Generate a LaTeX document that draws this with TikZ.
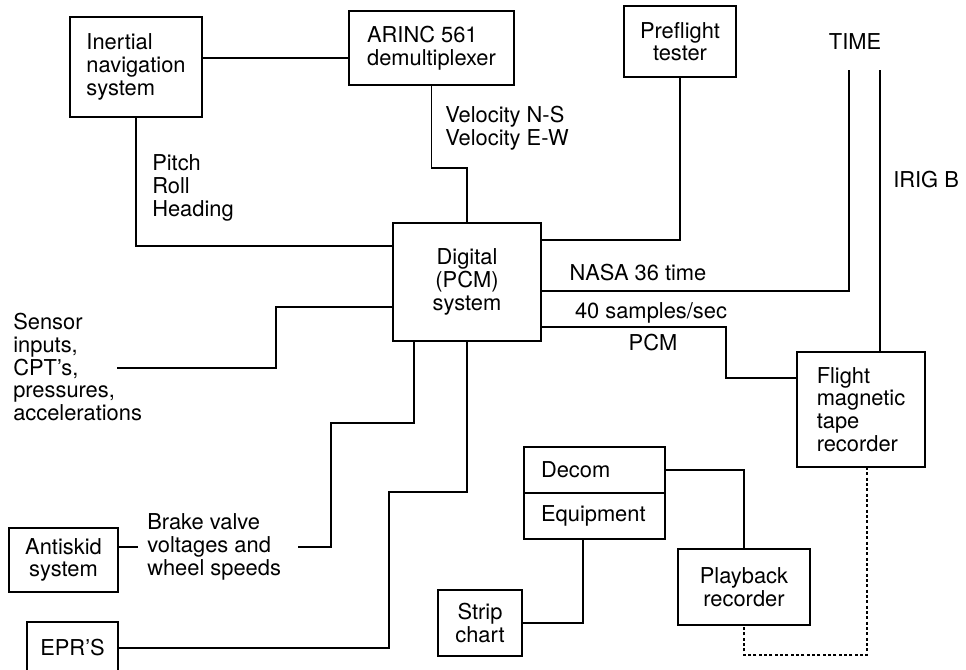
\documentclass[tikz,border=0pt]{standalone}
\usepackage{fontspec}
\setmainfont{TeX Gyre Heros}
\usetikzlibrary{positioning}
\newcommand{\lblfont}{\fontsize{16.4}{17}\selectfont}

\begin{document}
\begin{tikzpicture}[
    x=0.75pt, y=-0.75pt,
    box/.style={draw, line width=1.2pt, inner sep=0pt, outer sep=0pt, align=center, font=\lblfont},
    lbl/.style={inner sep=0pt, align=left, font=\lblfont},
    wire/.style={line width=1.2pt},
    dots/.style={line width=1pt, dash pattern=on 2.2pt off 1.8pt}
]
\clip (0,0) rectangle (966,669);

% blocks
\node[box, align=left, minimum width=99pt, minimum height=75pt] (ins) at (136,67) {Inertial\\navigation\\system};
\node[box, align=left, minimum width=123.75pt, minimum height=55.5pt] (arinc) at (431.5,48) {ARINC 561\\demultiplexer};
\node[box, minimum width=84pt, minimum height=53.25pt] (pre) at (680,41.5) {Preflight\\tester};
\node[box, minimum width=111pt, minimum height=88.5pt] (dig) at (467,282) {Digital\\(PCM)\\system};
\node[box, align=left, minimum width=96pt, minimum height=86.25pt] (tape) at (861,409.5) {Flight\\magnetic\\tape\\recorder};
\node[box, align=left, text width=80.25pt, inner xsep=12.75pt, minimum height=34.5pt] (decom) at (594.5,470) {Decom};
\node[box, align=left, text width=80.25pt, inner xsep=12.75pt, minimum height=34.5pt, below=0pt of decom] (equip) {Equipment};
\node[box, minimum width=99pt, minimum height=57pt] (play) at (744,587) {Playback\\recorder};
\node[box, minimum width=63pt, minimum height=49.5pt] (strip) at (480,623) {Strip\\chart};
\node[box, minimum width=81.75pt, minimum height=48pt] (skid) at (63.5,560) {Antiskid\\system};
\node[box, minimum width=68.25pt, minimum height=39pt] (epr) at (72.5,648) {EPR'S};

% signal labels
\node[lbl, anchor=west] (att) at (152,188) {Pitch\\Roll\\Heading};
\node[lbl, anchor=west] (vel) at (445,128) {Velocity N-S\\Velocity E-W};
\node[lbl] (timelbl) at (855,42) {TIME};
\node[lbl, anchor=west] (irig) at (893,180) {IRIG B};
\node[lbl] (nasa) at (638,273) {NASA 36 time};
\node[lbl] (rate) at (651,313) {40 samples/sec};
\node[lbl] (pcm) at (653,343) {PCM};
\node[lbl, anchor=west] (sens) at (13,367) {Sensor\\inputs,\\CPT's,\\pressures,\\accelerations};
\node[lbl, anchor=west, inner xsep=6.75pt] (brake) at (138,547) {Brake valve\\voltages and\\wheel speeds};

\coordinate (timeend) at (849,70);
\coordinate (irigend) at (880,70);
\coordinate (sensend) at (117,368);

% connections
\draw[wire] ([yshift=6.75pt]ins.east) -- ([yshift=-7.5pt]arinc.west);
\draw[wire] (ins.south) |- ([yshift=27pt]dig.west);
\draw[wire] (arinc.south) -- ++(0,83) -| (dig.north);
\draw[wire] (pre.south) |- ([yshift=31.5pt]dig.east);
\draw[wire] (timeend) |- ([yshift=-6.75pt]dig.east);
\draw[wire] (irigend) -- (irigend |- tape.north);
\draw[wire] ([yshift=-33.75pt]dig.east) -- ++(185,0) |- ([yshift=23.6pt]tape.west);
\draw[wire] (sensend) -- ++(159,0) |- ([yshift=-18.75pt]dig.west);
\draw[wire] ([yshift=9.75pt]skid.east) -- (brake.west);
\draw[wire] ([xshift=6pt]brake.east) -- ++(33,0) -- ++(0,-124) -| ([xshift=-39.75pt]dig.south);
\draw[wire] (epr.east) -- ++(271,0) -- ++(0,-156) -| (dig.south);
\draw[wire] (decom.east) -| (play.north);
\draw[wire] ([xshift=-8.6pt]equip.south) |- (strip.east);
\draw[dots] ([xshift=4.5pt]tape.south) -- ++(0,188) -| (play.south);
\end{tikzpicture}
\end{document}
